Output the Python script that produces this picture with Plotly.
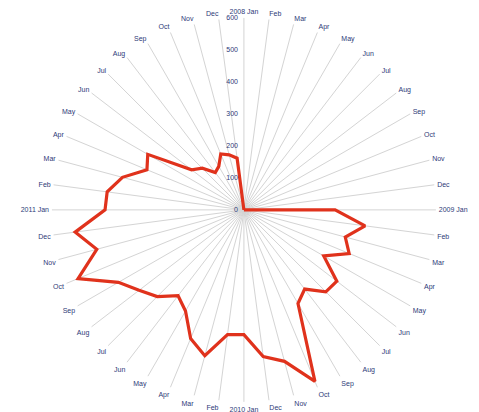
import plotly.graph_objects as go

years = ["2008", "2009", "2010", "2011"]
months = ["Jan", "Feb", "Mar", "Apr", "May", "Jun",
          "Jul", "Aug", "Sep", "Oct", "Nov", "Dec"]

values_2008 = [0, 0, 0, 0, 0, 0, 0, 0, 0, 0, 0, 0]
values_2009 = [285, 382, 328, 356, 288, 366, 362, 312, 338, 580, 490, 462]
values_2010 = [390, 393, 472, 435, 365, 338, 383, 413, 453, 561, 476, 532]
values_2011 = [434, 431, 393, 328, 347, 206, 184, 147, 157, 189, 178, 163]

radial_ticks = [0, 100, 200, 300, 400, 500, 600]

categories = [f"{y} {m}" for y in years for m in months]
tick_labels = [f"{y} {m}" if m == "Jan" else m for y in years for m in months]
values = values_2008 + values_2009 + values_2010 + values_2011

theta = categories + [categories[0]]
r = values + [values[0]]

fig = go.Figure()
fig.add_trace(go.Scatterpolar(
    r=r, theta=theta, mode="lines",
    line=dict(color="#e0321c", width=3.2),
    hoverinfo="skip", showlegend=False,
))

label_font = dict(family="Liberation Sans, Arial, sans-serif", size=7, color="#2e3a78")

fig.update_layout(
    width=479, height=412,
    margin=dict(l=0, r=0, t=0, b=0),
    paper_bgcolor="white",
    plot_bgcolor="white",
    polar=dict(
        domain=dict(x=[0.0915, 0.8935], y=[0.044, 0.976]),
        bgcolor="white",
        angularaxis=dict(
            type="category",
            categoryorder="array", categoryarray=categories,
            tickmode="array", tickvals=categories, ticktext=tick_labels,
            rotation=90, direction="clockwise",
            showline=False,
            ticks="outside", ticklen=1, tickcolor="rgba(0,0,0,0)",
            showgrid=True, gridcolor="#d4d4d4", gridwidth=1,
            tickfont=label_font,
        ),
        radialaxis=dict(
            range=[0, 600], tickvals=radial_ticks,
            angle=90, tickangle=90, side="counterclockwise",
            showline=False,
            ticks="outside", ticklen=3, tickcolor="rgba(0,0,0,0)",
            showgrid=False,
            tickfont=label_font,
        ),
    ),
)

fig.write_html("out.html")
